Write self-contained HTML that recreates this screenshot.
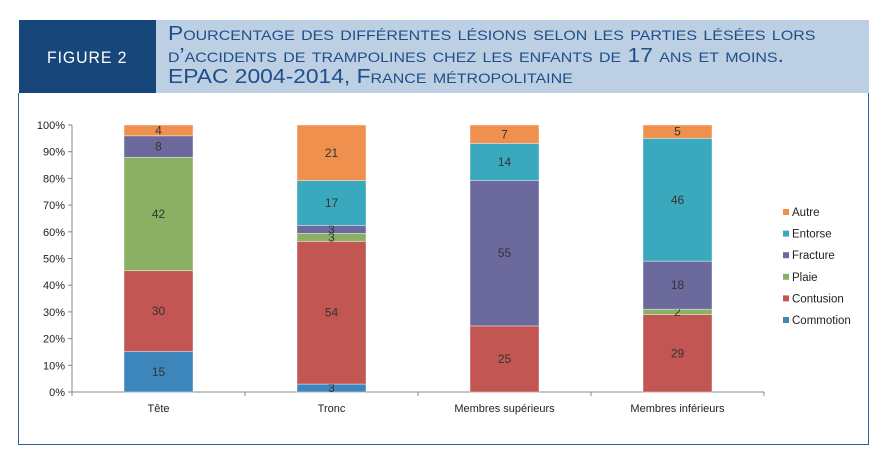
<!DOCTYPE html>
<html><head><meta charset="utf-8"><style>
body{margin:0;width:883px;height:457px;background:#fff;overflow:hidden;font-family:"Liberation Sans",sans-serif;position:relative}
#hdr-dark{position:absolute;left:19px;top:20px;width:137px;height:73px;background:#17477a;display:flex;align-items:center;justify-content:center}
#fig{color:#fff;font-family:"Liberation Sans Narrow","Liberation Sans",sans-serif;font-size:17px;letter-spacing:1px;white-space:nowrap;margin-top:2px}
#hdr-light{position:absolute;left:156px;top:20px;width:713px;height:73px;background:#bccfe3}
#title{position:absolute;left:168px;top:24px;color:#1f4f8a;font-family:"Liberation Sans Narrow","Liberation Sans",sans-serif;font-size:20px;line-height:21.5px;white-space:nowrap;font-variant:small-caps;transform-origin:0 0}
#frame{position:absolute;left:18px;top:93px;width:849px;height:351px;border:1.5px solid #2f5f95;border-top:none;box-sizing:content-box}
svg{position:absolute;left:0;top:0}
</style></head><body>
<div id="hdr-dark"><span id="fig">FIGURE 2</span></div>
<div id="hdr-light"></div>
<div id="title">Pourcentage des différentes lésions selon les parties lésées lors<br>d’accidents de trampolines chez les enfants de 17 ans et moins.<br>EPAC 2004-2014, France métropolitaine</div>
<div id="frame"></div>
<svg id="chart" width="883" height="457"></svg>
<script>
const categories=["Tête","Tronc","Membres supérieurs","Membres inférieurs"];
const seriesNames=["Commotion","Contusion","Plaie","Fracture","Entorse","Autre"];
const commotion=[15,3,0,0];
const contusion=[30,54,25,29];
const plaie=[42,3,0,2];
const fracture=[8,3,55,18];
const entorse=[0,17,14,46];
const autre=[4,21,7,5];
const yTicks=[0,10,20,30,40,50,60,70,80,90,100];
const colors=["#3d86bc","#c25653","#8bb063","#6c6a9c","#3aa9bd","#f0904e"];
const series=[commotion,contusion,plaie,fracture,entorse,autre];
(function(){
  const t=document.getElementById("title");const w=t.offsetWidth;t.style.transform="scaleX("+(647/w)+")";
  const f=document.getElementById("fig");const fw=f.offsetWidth;if(fw>82)f.style.transform="scaleX("+(80/fw)+")";
})();
const NS="http://www.w3.org/2000/svg";
const svg=document.getElementById("chart");
const x0=72,x1=764,yTop=125,yBot=392,barW=69;
const step=(x1-x0)/categories.length;
const xc=i=>x0+step*(i+0.5);
const y=v=>yBot-(yBot-yTop)*v/100;
function mk(t,a){const e=document.createElementNS(NS,t);for(const k in a)e.setAttribute(k,a[k]);svg.appendChild(e);return e;}
let ax=mk("line",{x1:x0,y1:yTop,x2:x0,y2:yBot,stroke:"#888"});


let bx=mk("line",{x1:x0,y1:yBot,x2:x1,y2:yBot,stroke:"#888"});


yTicks.forEach(t=>{
  mk("line",{x1:x0-4,y1:y(t),x2:x0,y2:y(t),stroke:"#888"});
  const tx=mk("text",{x:x0-7,y:y(t)+4,"text-anchor":"end","font-size":"11","fill":"#222"});
  tx.textContent=t+"%";
  
  
});
for(let i=0;i<=categories.length;i++){mk("line",{x1:x0+step*i,y1:yBot,x2:x0+step*i,y2:yBot+4,stroke:"#888"});}
categories.forEach((c,i)=>{
  let total=0;series.forEach(s=>total+=s[i]);
  let cum=0;
  series.forEach((s,j)=>{
    const v=s[i];if(!v)return;
    const ya=y(cum/total*100),yb=y((cum+v)/total*100);cum+=v;
    const r=mk("rect",{x:xc(i)-barW/2,y:yb,width:barW,height:ya-yb,fill:colors[j],stroke:"#fff","stroke-opacity":"0.5","stroke-width":"0.8"});
    
    
    const t=mk("text",{x:xc(i),y:(ya+yb)/2+4,"text-anchor":"middle","font-size":"12","fill":"#333"});
    t.textContent=v;
    
    
  });
  const l=mk("text",{x:xc(i),y:yBot+20,"text-anchor":"middle","font-size":"11","fill":"#222"});
  l.textContent=c;
  
  
});
for(let j=seriesNames.length-1,k=0;j>=0;j--,k++){
  const ly=212+k*21.6;
  const sq=mk("rect",{x:783,y:ly-3,width:6,height:6,fill:colors[j]});
  
  
  const lt=mk("text",{x:792,y:ly+4,"font-size":"11.5","fill":"#222"});
  lt.textContent=seriesNames[j];
  
  
}
</script>
</body></html>
